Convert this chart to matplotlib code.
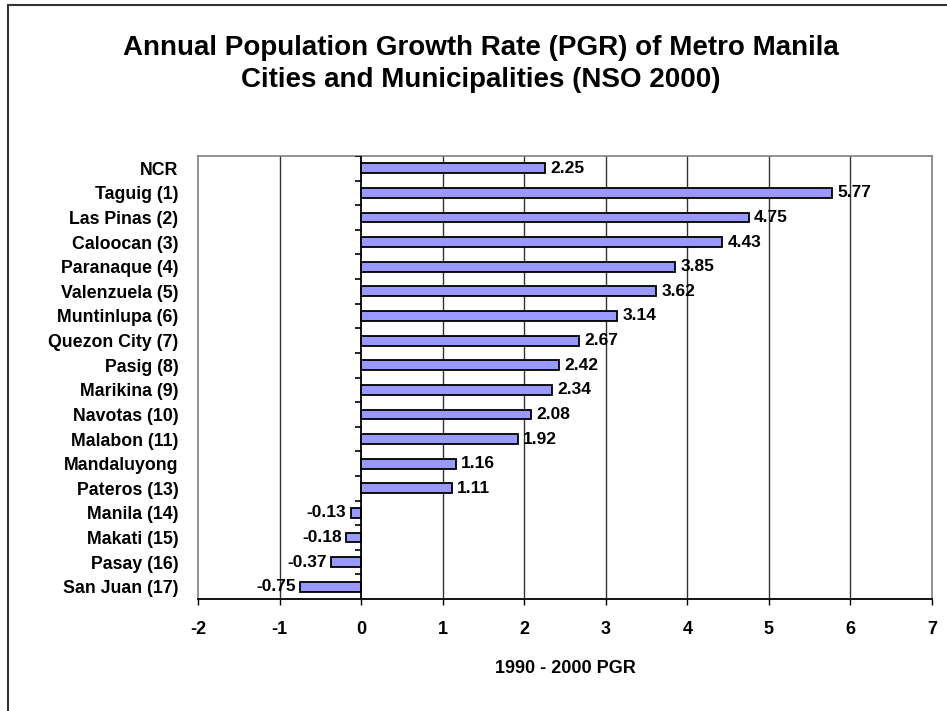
import matplotlib
matplotlib.use("Agg")
import matplotlib.pyplot as plt
import numpy as np
from matplotlib.patches import Rectangle

cities = ["NCR", "Taguig (1)", "Las Pinas (2)", "Caloocan (3)", "Paranaque (4)",
          "Valenzuela (5)", "Muntinlupa (6)", "Quezon City (7)", "Pasig (8)",
          "Marikina (9)", "Navotas (10)", "Malabon (11)", "Mandaluyong",
          "Pateros (13)", "Manila (14)", "Makati (15)", "Pasay (16)", "San Juan (17)"]
pgr = [2.25, 5.77, 4.75, 4.43, 3.85, 3.62, 3.14, 2.67, 2.42, 2.34, 2.08, 1.92,
       1.16, 1.11, -0.13, -0.18, -0.37, -0.75]
xticks = [-2, -1, 0, 1, 2, 3, 4, 5, 6, 7]

plt.rcParams["font.family"] = ["Liberation Sans", "DejaVu Sans"]

fig = plt.figure(figsize=(9.47, 7.11), dpi=100)
ax = fig.add_axes([0.2091, 0.1575, 0.7751, 0.6231])

y = np.arange(len(cities))
ax.barh(y, pgr, height=0.4, color="#9999FF", edgecolor="black", linewidth=1.3, zorder=3)

# etiketter vid stapelns ände
for yi, v in zip(y, pgr):
    if v >= 0:
        ax.annotate(f"{v:.2f}", (v, yi), xytext=(4, 0), textcoords="offset points",
                    ha="left", va="center", fontsize=12.5, fontweight="bold", zorder=4)
    else:
        ax.annotate(f"{v:.2f}", (v, yi), xytext=(-3, 0), textcoords="offset points",
                    ha="right", va="center", fontsize=12.5, fontweight="bold", zorder=4)

ax.set_xlim(-2, 7)
ax.set_ylim(len(cities) - 0.5, -0.5)
ax.set_xticks(xticks)
ax.set_xticklabels([str(t) for t in xticks], fontsize=13, fontweight="bold")
ax.set_yticks(y)
ax.set_yticklabels(cities, fontsize=12.8, fontweight="bold")
ax.tick_params(axis="y", length=0, pad=14)
ax.tick_params(axis="x", direction="out", length=4, width=1, pad=12)

# rutnät och y-axel vid 0
for t in xticks[1:-1]:
    if t != 0:
        ax.axvline(t, color="#333333", linewidth=1, zorder=1)
ax.axvline(0, color="black", linewidth=1.3, zorder=4)
ax.hlines(np.arange(len(cities)) - 0.5, -0.08, 0, color="black", linewidth=1.2, zorder=4)

for s in ["top", "right", "left"]:
    ax.spines[s].set_color("#808080")
    ax.spines[s].set_linewidth(1.2)
ax.spines["bottom"].set_color("black")
ax.spines["bottom"].set_linewidth(1.3)

ax.set_xlabel("1990 - 2000 PGR", fontsize=13, fontweight="bold", labelpad=16)

fig.text(0.508, 0.933, "Annual Population Growth Rate (PGR) of Metro Manila",
         ha="center", va="center", fontsize=20, fontweight="bold")
fig.text(0.508, 0.887, "Cities and Municipalities (NSO 2000)",
         ha="center", va="center", fontsize=20, fontweight="bold")

fig.patches.append(Rectangle((0.0085, -0.1), 1.2, 1.093, transform=fig.transFigure,
                             fill=False, edgecolor="#333333", linewidth=1.5))

fig.savefig("out.png", dpi=100)
